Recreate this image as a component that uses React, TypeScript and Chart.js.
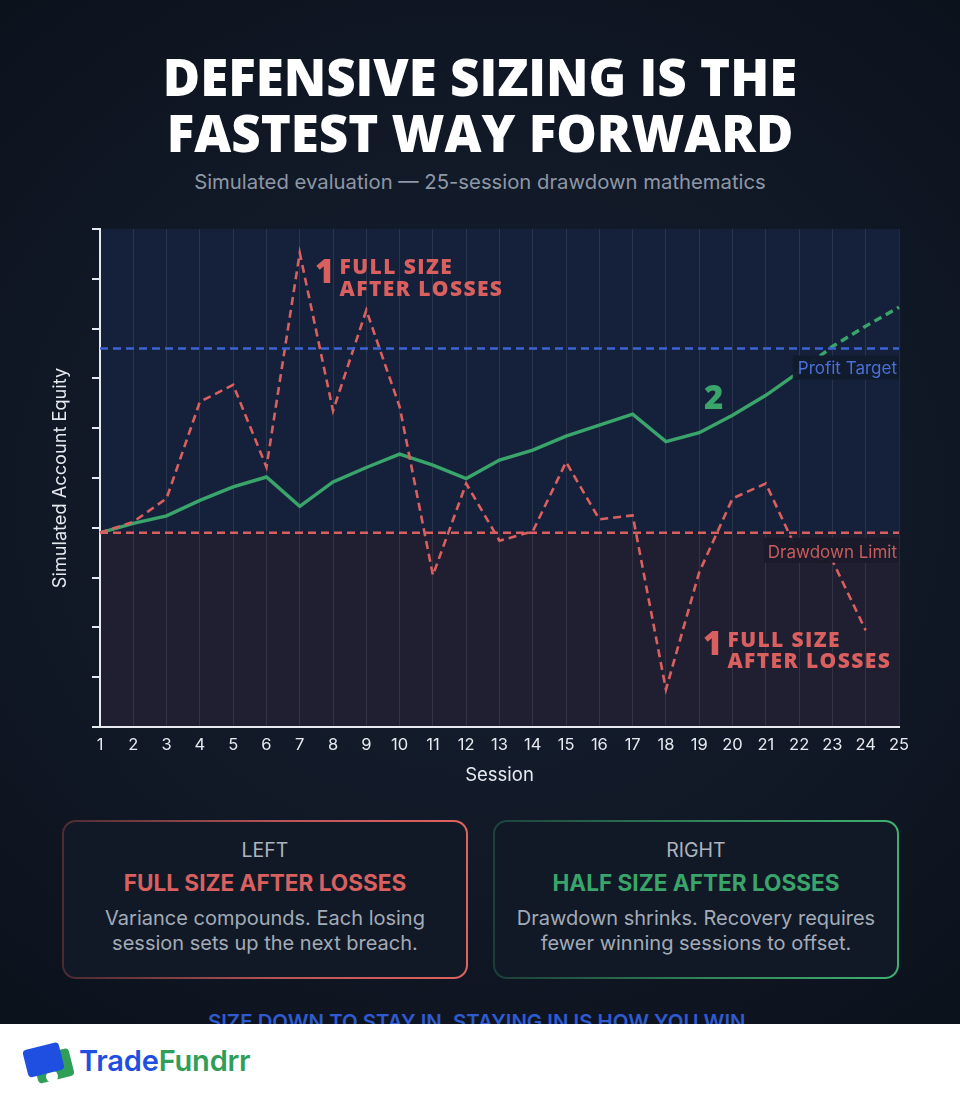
import React, { useEffect, useRef } from "react";
import { Chart, registerables } from "chart.js";

Chart.register(...registerables);

// Session numbers along the x axis
const SESSIONS = [
  "1", "2", "3", "4", "5", "6", "7", "8", "9", "10", "11", "12", "13",
  "14", "15", "16", "17", "18", "19", "20", "21", "22", "23", "24", "25",
];

// Simulated equity (chart units) when size is halved after losing sessions
const HALF_SIZE_EQUITY = [
  3.9, 4.09, 4.24, 4.55, 4.82, 5.02, 4.43, 4.92, 5.21, 5.48, 5.26, 4.99, 5.36,
  5.56, 5.84, 6.06, 6.28, 5.73, 5.91, 6.26, 6.66, 7.13, 7.64, 8.05, 8.43,
];

// Simulated equity when full size is kept after losing sessions
const FULL_SIZE_EQUITY = [
  3.9, 4.12, 4.59, 6.53, 6.87, 5.22, 9.52, 6.35, 8.37, 6.43, 3.05, 4.89, 3.74,
  3.93, 5.32, 4.17, 4.25, 0.75, 3.11, 4.59, 4.89, 3.45, 3.34, 1.94, null,
];

const PROFIT_TARGET = 7.6;
const DRAWDOWN_LIMIT = 3.9;
const Y_MIN = 0;
const Y_MAX = 10;
const Y_STEP = 1;

const RED = "#d9605f";
const GREEN = "#3aa56a";
const BLUE = "#3b63d4";
const AXIS = "#e6e9ee";
const DASH = [8, 5];

// Shaded zones above / below the drawdown limit
const zonePlugin = {
  id: "zones",
  beforeDraw(chart: any) {
    const { ctx, chartArea: a, scales } = chart;
    const yd = scales.y.getPixelForValue(DRAWDOWN_LIMIT);
    ctx.save();
    ctx.fillStyle = "#15213a";
    ctx.fillRect(a.left, a.top, a.right - a.left, yd - a.top);
    ctx.fillStyle = "#1f1f31";
    ctx.fillRect(a.left, yd, a.right - a.left, a.bottom - yd);
    ctx.restore();
  },
};

function callout(
  ctx: CanvasRenderingContext2D,
  x: number,
  y: number,
  color: string
) {
  ctx.fillStyle = color;
  ctx.textAlign = "left";
  ctx.textBaseline = "alphabetic";
  ctx.font = "800 33px 'Open Sans'";
  ctx.fillText("1", x, y);
  ctx.font = "800 21px 'Open Sans'";
  (ctx as any).letterSpacing = "1.4px";
  ctx.fillText("FULL SIZE", x + 24.5, y - 8.7);
  ctx.fillText("AFTER LOSSES", x + 24.5, y + 13.2);
  (ctx as any).letterSpacing = "0px";
}

// Reference-line tags and the numbered callouts
const labelPlugin = {
  id: "labels",
  afterDatasetsDraw(chart: any) {
    const { ctx, chartArea: a, scales } = chart;
    const { x, y } = scales;
    const yt = y.getPixelForValue(PROFIT_TARGET);
    const yd = y.getPixelForValue(DRAWDOWN_LIMIT);
    ctx.save();

    ctx.font = "17px Inter";
    ctx.textAlign = "right";
    ctx.textBaseline = "alphabetic";
    let w = ctx.measureText("Profit Target").width;
    ctx.fillStyle = "rgba(18,27,46,0.96)";
    ctx.fillRect(a.right - w - 7, yt + 7, w + 7, 24);
    ctx.fillStyle = "#4a6fd8";
    ctx.fillText("Profit Target", a.right - 2, yt + 25);

    w = ctx.measureText("Drawdown Limit").width;
    ctx.fillStyle = "rgba(26,26,42,0.96)";
    ctx.fillRect(a.right - w - 6, yd + 5, w + 6, 25);
    ctx.fillStyle = "#c95c5c";
    ctx.fillText("Drawdown Limit", a.right - 2, yd + 25);

    callout(ctx, x.getPixelForValue(6.46), y.getPixelForValue(8.92), RED);
    callout(ctx, x.getPixelForValue(18.11), y.getPixelForValue(1.44), RED);

    ctx.font = "800 33px 'Open Sans'";
    ctx.textAlign = "left";
    ctx.fillStyle = GREEN;
    ctx.fillText("2", x.getPixelForValue(18.14), y.getPixelForValue(6.38));
    ctx.restore();
  },
};

function EquityChart() {
  const ref = useRef<HTMLCanvasElement>(null);
  useEffect(() => {
    if (!ref.current) return;
    Chart.defaults.font.family = "Inter";
    const chart = new Chart(ref.current, {
      type: "line",
      data: {
        labels: SESSIONS,
        datasets: [
          {
            data: SESSIONS.map(() => PROFIT_TARGET),
            borderColor: BLUE,
            borderWidth: 2.5,
            borderDash: DASH,
            pointRadius: 0,
          },
          {
            data: SESSIONS.map(() => DRAWDOWN_LIMIT),
            borderColor: RED,
            borderWidth: 2.5,
            borderDash: DASH,
            pointRadius: 0,
          },
          {
            data: FULL_SIZE_EQUITY,
            borderColor: RED,
            borderWidth: 2.6,
            borderDash: DASH,
            pointRadius: 0,
          },
          {
            data: HALF_SIZE_EQUITY,
            borderColor: GREEN,
            borderWidth: 3.4,
            pointRadius: 0,
            segment: {
              borderDash: (c: any) =>
                c.p1.parsed.y > PROFIT_TARGET ? DASH : undefined,
            },
          },
        ],
      },
      options: {
        responsive: false,
        animation: false,
        devicePixelRatio: 1,
        layout: { padding: { top: 29, right: 61, left: 0, bottom: 0 } },
        plugins: {
          legend: { display: false },
          tooltip: { enabled: false },
        },
        scales: {
          x: {
            grid: {
              color: "rgba(255,255,255,0.09)",
              drawTicks: false,
              lineWidth: 1,
            },
            border: { color: AXIS, width: 2 },
            ticks: {
              color: AXIS,
              font: { family: "Inter", size: 16.5 },
              padding: 8,
              maxRotation: 0,
              autoSkip: false,
            },
            title: {
              display: true,
              text: "Session",
              color: AXIS,
              font: { family: "Inter", size: 18.5 },
              padding: { top: 0, bottom: 13 },
            },
            afterFit(s: any) {
              s.height = 73;
            },
          },
          y: {
            min: Y_MIN,
            max: Y_MAX,
            ticks: { stepSize: Y_STEP, display: false },
            grid: {
              drawOnChartArea: false,
              drawTicks: true,
              tickLength: 8,
              color: AXIS,
              lineWidth: 2,
            },
            border: { color: AXIS, width: 2 },
            title: {
              display: true,
              text: "Simulated Account Equity",
              color: AXIS,
              font: { family: "Inter", size: 18.2 },
              padding: { top: 50, bottom: 0 },
            },
            afterFit(s: any) {
              s.width = 100;
            },
          },
        },
      },
      plugins: [zonePlugin, labelPlugin],
    } as any);
    return () => chart.destroy();
  }, []);
  return (
    <canvas
      ref={ref}
      width={960}
      height={600}
      style={{ position: "absolute", left: 0, top: 200, width: 960, height: 600 }}
    />
  );
}

// Text placed by its baseline (Inter: 0.864em, Open Sans: 0.888em with line-height 1)
function Line(props: {
  text: string;
  baseline: number;
  size: number;
  color: string;
  weight?: number;
  cx?: number;
  family?: string;
  spacing?: number;
}) {
  const fam = props.family || "Inter";
  const k = fam === "Open Sans" ? 0.888 : 0.864;
  const cx = props.cx ?? 480;
  return (
    <div
      style={{
        position: "absolute",
        left: cx - 400,
        width: 800,
        top: props.baseline - k * props.size,
        textAlign: "center",
        fontFamily: `'${fam}'`,
        fontSize: props.size,
        lineHeight: 1,
        fontWeight: props.weight ?? 400,
        letterSpacing: props.spacing ?? 0,
        color: props.color,
        whiteSpace: "nowrap",
      }}
    >
      {props.text}
    </div>
  );
}

function Card(props: {
  left: number;
  border: string;
  label: string;
  heading: string;
  headColor: string;
  body: string[];
}) {
  const cx = props.left + 203;
  return (
    <>
      <div
        style={{
          position: "absolute",
          left: props.left,
          top: 820,
          width: 406,
          height: 159,
          borderRadius: 14,
          background: props.border,
          padding: 2,
          boxSizing: "border-box",
        }}
      >
        <div
          style={{
            width: "100%",
            height: "100%",
            borderRadius: 12,
            background: "#111927",
          }}
        />
      </div>
      <Line text={props.label} baseline={858} size={19.5} color="#aeb4be" cx={cx} />
      <Line
        text={props.heading}
        baseline={892}
        size={22.6}
        weight={700}
        color={props.headColor}
        cx={cx}
      />
      <Line text={props.body[0]} baseline={925} size={20} color="#a3abb7" cx={cx} />
      <Line text={props.body[1]} baseline={950} size={20} color="#a3abb7" cx={cx} />
    </>
  );
}

export default function App() {
  return (
    <div
      style={{
        position: "absolute",
        left: 0,
        top: 0,
        width: 960,
        height: 1104,
        overflow: "hidden",
        background:
          "radial-gradient(ellipse 75% 60% at 50% 45%, #162031 0%, #111927 55%, #0c121c 100%)",
      }}
    >
      <Line
        text="DEFENSIVE SIZING IS THE"
        baseline={96}
        size={51}
        weight={800}
        color="#ffffff"
        family="Open Sans"
      />
      <Line
        text="FASTEST WAY FORWARD"
        baseline={152}
        size={51}
        weight={800}
        color="#ffffff"
        family="Open Sans"
      />
      <Line
        text="Simulated evaluation — 25-session drawdown mathematics"
        baseline={190}
        size={20.3}
        color="#8e97a5"
      />

      <EquityChart />

      <Card
        left={62}
        border="linear-gradient(90deg, rgba(190,85,85,0.35) 0%, rgba(217,96,95,0.85) 55%, #e0635f 100%)"
        label="LEFT"
        heading="FULL SIZE AFTER LOSSES"
        headColor={RED}
        body={["Variance compounds. Each losing", "session sets up the next breach."]}
      />
      <Card
        left={493}
        border="linear-gradient(90deg, rgba(50,140,95,0.35) 0%, rgba(58,165,106,0.8) 55%, #3fb072 100%)"
        label="RIGHT"
        heading="HALF SIZE AFTER LOSSES"
        headColor={GREEN}
        body={["Drawdown shrinks. Recovery requires", "fewer winning sessions to offset."]}
      />

      <Line
        text="SIZE DOWN TO STAY IN. STAYING IN IS HOW YOU WIN."
        baseline={1030}
        size={20.4}
        weight={600}
        color="#2f5ad0"
      />

      <div
        style={{
          position: "absolute",
          left: 0,
          top: 1024,
          width: 960,
          height: 80,
          background: "#ffffff",
        }}
      >
        <svg
          style={{ position: "absolute", left: 20, top: 14 }}
          width={60}
          height={54}
          viewBox="0 0 60 54"
        >
          <rect x="15" y="14" width="37" height="28" rx="4" fill="#2e9e58" transform="rotate(-14 33 28)" />
          <circle cx="32" cy="38.5" r="6" fill="#ffffff" />
          <rect x="5" y="8" width="37" height="28" rx="4" fill="#1f4fe0" transform="rotate(-14 23 22)" />
        </svg>
        <div
          style={{
            position: "absolute",
            left: 79,
            top: 1071 - 1024 - 0.864 * 29,
            fontFamily: "Inter",
            fontSize: 29,
            lineHeight: 1,
            fontWeight: 600,
            letterSpacing: -0.2,
            whiteSpace: "nowrap",
          }}
        >
          <span style={{ color: "#1f4fe0" }}>Trade</span>
          <span style={{ color: "#2e9e58" }}>Fundrr</span>
        </div>
      </div>
    </div>
  );
}
